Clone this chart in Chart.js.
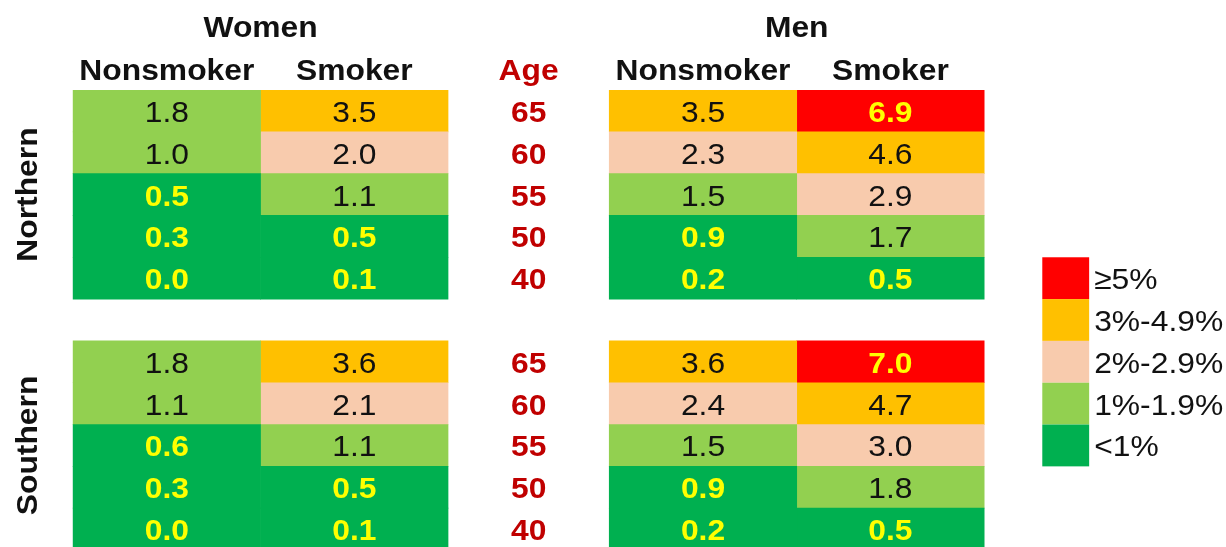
<!DOCTYPE html>
<html>
<head>
<meta charset="utf-8">
<script src="https://cdn.jsdelivr.net/npm/chart.js@4"></script>
<style>
  html, body { margin: 0; padding: 0; background: #fff; overflow: hidden; }
  #wrap { width: 1226px; height: 560px; position: relative; }
</style>
</head>
<body>
<div id="wrap"><canvas id="myChart"></canvas></div>
<script>
const ages = ['65', '60', '55', '50', '40'];
const regions = ['Northern', 'Southern'];
const groups = ['Women', 'Men'];
const smoking = ['Nonsmoker', 'Smoker'];

// risk in %, one value per age row (65 -> 40)
const northWomenNonsmoker = [1.8, 1.0, 0.5, 0.3, 0.0];
const northWomenSmoker = [3.5, 2.0, 1.1, 0.5, 0.1];
const northMenNonsmoker = [3.5, 2.3, 1.5, 0.9, 0.2];
const northMenSmoker = [6.9, 4.6, 2.9, 1.7, 0.5];
const southWomenNonsmoker = [1.8, 1.1, 0.6, 0.3, 0.0];
const southWomenSmoker = [3.6, 2.1, 1.1, 0.5, 0.1];
const southMenNonsmoker = [3.6, 2.4, 1.5, 0.9, 0.2];
const southMenSmoker = [7.0, 4.7, 2.97, 1.8, 0.5];

const legendLabels = ['≥5%', '3%-4.9%', '2%-2.9%', '1%-1.9%', '<1%'];
const binFloors = [5, 3, 2, 1, -Infinity];
const binColors = ['#FF0000', '#FFC000', '#F8CBAD', '#92D050', '#00B050'];

const FONT = '"Liberation Sans", Arial, sans-serif';

function colorFor(v) {
    return binColors[binFloors.findIndex(f => v >= f)];
}

// rows: northern block, one empty spacer row, southern block
const rowLabels = [
    ...ages.map(a => regions[0] + ' ' + a),
    '',
    ...ages.map(a => regions[1] + ' ' + a),
];

// x positions in column units
const ageX = 2.43;
const groupX = [1, 3.86];
const columns = [
    { label: 'Women Nonsmoker', north: northWomenNonsmoker, south: southWomenNonsmoker, from: 0 },
    { label: 'Women Smoker', north: northWomenSmoker, south: southWomenSmoker, from: 1 },
    { label: 'Men Nonsmoker', north: northMenNonsmoker, south: southMenNonsmoker, from: 2.86 },
    { label: 'Men Smoker', north: northMenSmoker, south: southMenSmoker, from: 3.86 },
];

const datasets = columns.map(col => {
    const vals = [...col.north, null, ...col.south];
    return {
        label: col.label,
        data: vals.map(v => v === null ? null : [col.from, col.from + 1]),
        values: vals,
        backgroundColor: vals.map(v => v === null ? 'rgba(0,0,0,0)' : colorFor(v)),
        borderWidth: 0,
        grouped: false,
        barPercentage: 1,
        categoryPercentage: 1,
    };
});

function drawText(ctx, text, x, y, font, color, align, angle) {
    ctx.save();
    ctx.font = font;
    ctx.fillStyle = color;
    ctx.textAlign = align || 'center';
    ctx.textBaseline = 'alphabetic';
    ctx.translate(x, y);
    if (angle) ctx.rotate(angle);
    ctx.scale(1.06, 1);
    ctx.fillText(text, 0, 0);
    ctx.restore();
}

const tableText = {
    id: 'tableText',
    afterDatasetsDraw(chart) {
        const ctx = chart.ctx;
        const xs = chart.scales.x;
        const ys = chart.scales.y;
        const top = chart.chartArea.top;
        const rowH = ys.getPixelForValue(1) - ys.getPixelForValue(0);

        // cell values
        chart.data.datasets.forEach((ds, i) => {
            chart.getDatasetMeta(i).data.forEach((bar, j) => {
                const v = ds.values[j];
                if (v === null) return;
                const bright = v < 1 || v >= 5;
                drawText(ctx, v.toFixed(1), (bar.x + bar.base) / 2, bar.y + 11,
                    (bright ? 'bold ' : '') + '30px ' + FONT, bright ? '#FFFF00' : '#111');
            });
        });

        // age column
        rowLabels.forEach((lab, r) => {
            if (!lab) return;
            drawText(ctx, lab.split(' ')[1], xs.getPixelForValue(ageX), ys.getPixelForValue(r) + 11,
                'bold 30px ' + FONT, '#C00000');
        });

        // headers
        groups.forEach((g, i) => {
            drawText(ctx, g, xs.getPixelForValue(groupX[i]), top - 53, 'bold 30px ' + FONT, '#111');
        });
        columns.forEach((col, i) => {
            drawText(ctx, smoking[i % 2], xs.getPixelForValue(col.from + 0.5), top - 10,
                'bold 30px ' + FONT, '#111');
        });
        drawText(ctx, 'Age', xs.getPixelForValue(ageX), top - 10, 'bold 30px ' + FONT, '#C00000');

        // region labels
        regions.forEach((reg, i) => {
            drawText(ctx, reg, xs.getPixelForValue(-0.19), ys.getPixelForValue(2 + i * 6),
                'bold 30px ' + FONT, '#111', 'center', -Math.PI / 2);
        });

        // colour key
        const kx0 = xs.getPixelForValue(5.17);
        const kx1 = xs.getPixelForValue(5.42);
        legendLabels.forEach((lab, i) => {
            const cy = ys.getPixelForValue(4 + i);
            ctx.fillStyle = binColors[i];
            ctx.fillRect(kx0, cy - rowH / 2, kx1 - kx0, rowH);
            drawText(ctx, lab, kx1 + 5, cy + 11, '30px ' + FONT, '#111', 'left');
        });
    }
};

const config = {
    type: 'bar',
    data: {
        labels: rowLabels,
        datasets: datasets,
    },
    options: {
        indexAxis: 'y',
        responsive: true,
        maintainAspectRatio: false,
        animation: false,
        layout: {
            padding: { top: 90, bottom: 10, left: 0, right: 0 }
        },
        scales: {
            x: { type: 'linear', min: -0.39, max: 6.15, display: false },
            y: { type: 'category', display: false },
        },
        plugins: {
            legend: { display: false },
            tooltip: { enabled: false },
        }
    },
    plugins: [tableText],
};

new Chart(
    document.getElementById('myChart'),
    config
);
</script>
</body>
</html>
